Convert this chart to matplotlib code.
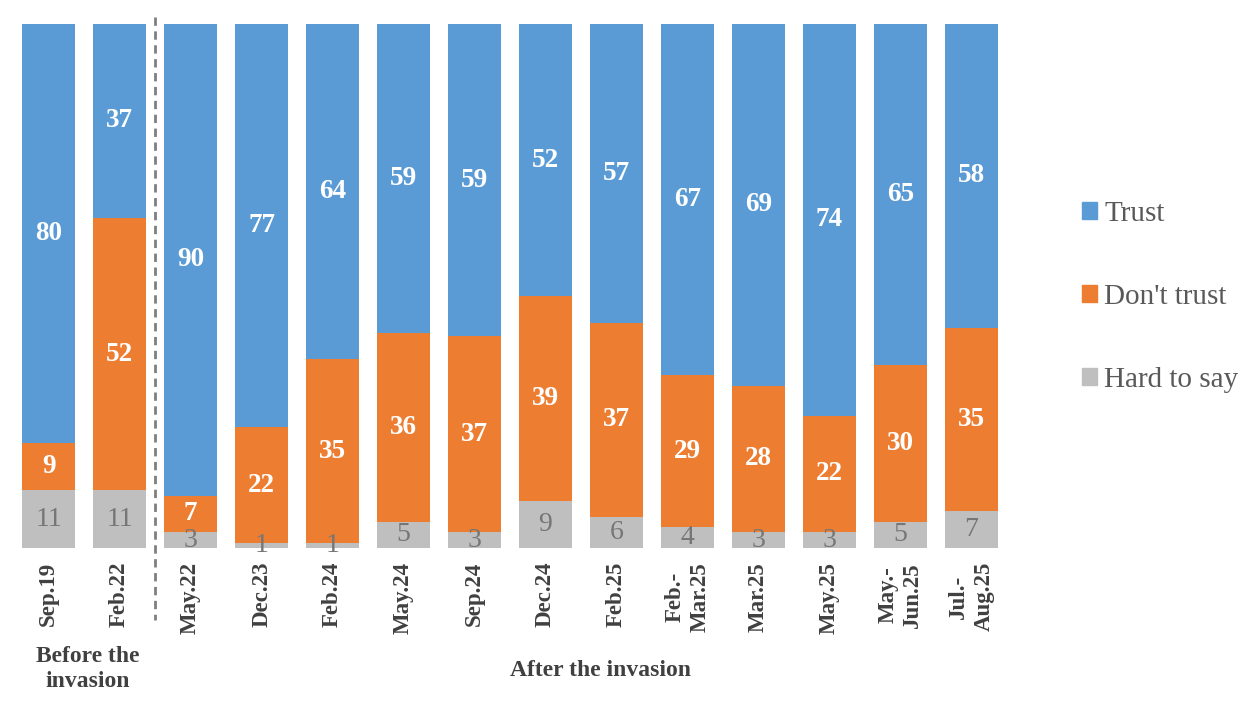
import numpy as np
import matplotlib
matplotlib.use('Agg')
import matplotlib.pyplot as plt
from matplotlib.patches import Patch

plt.rcParams['font.family'] = ['Liberation Serif', 'DejaVu Serif']

# Data
periods = ['Sep.19', 'Feb.22', 'May.22', 'Dec.23', 'Feb.24', 'May.24', 'Sep.24',
           'Dec.24', 'Feb.25', 'Feb.-\nMar.25', 'Mar.25', 'May.25', 'May.-\nJun.25',
           'Jul.-\nAug.25']
trust = [80, 37, 90, 77, 64, 59, 59, 52, 57, 67, 69, 74, 65, 58]
dont_trust = [9, 52, 7, 22, 35, 36, 37, 39, 37, 29, 28, 22, 30, 35]
hard_to_say = [11, 11, 3, 1, 1, 5, 3, 9, 6, 4, 3, 3, 5, 7]

BLUE = '#5B9BD5'
ORANGE = '#ED7D31'
GRAY = '#BFBFBF'

t = np.array(trust, dtype=float)
d = np.array(dont_trust, dtype=float)
h = np.array(hard_to_say, dtype=float)
tot = t + d + h
# 100% stacked, like the source chart
tp, dp, hp = t / tot * 100, d / tot * 100, h / tot * 100

W, H = 1257, 706
fig = plt.figure(figsize=(W / 100, H / 100), dpi=100)
ax = fig.add_axes([22 / W, 158 / H, 976 / W, 524 / H])

x = np.arange(len(periods))
bw = 0.75
ax.bar(x, hp, bw, color=GRAY, label='Hard to say')
ax.bar(x, dp, bw, bottom=hp, color=ORANGE, label="Don't trust")
ax.bar(x, tp, bw, bottom=hp + dp, color=BLUE, label='Trust')

for i in range(len(x)):
    ax.text(x[i], hp[i] / 2, f'{hard_to_say[i]}', ha='center', va='center',
            fontsize=20, color='#767676')
    ax.text(x[i], hp[i] + dp[i] / 2, f'{dont_trust[i]}', ha='center', va='center',
            fontsize=19.5, color='white', fontweight='bold')
    ax.text(x[i], hp[i] + dp[i] + tp[i] / 2, f'{trust[i]}', ha='center', va='center',
            fontsize=19.5, color='white', fontweight='bold')

ax.set_xlim(-0.375, len(x) - 1 + 0.375)
ax.set_ylim(0, 100)
ax.set_yticks([])
ax.set_xticks(x)
ax.set_xticklabels(periods, rotation=90, fontsize=16.5, fontweight='bold',
                   color='#404040', ha='center', va='top', linespacing=1.25)
ax.tick_params(axis='x', length=0, pad=10)
for s in ax.spines.values():
    s.set_visible(False)

# divider between before / after
ax.plot([1.5, 1.5], [1.013, -0.137], transform=ax.get_xaxis_transform(),
        color='#7F7F7F', lw=2, ls=(0, (3, 2)), clip_on=False)

ax.text(88 / W, (706 - 669) / H, 'Before the\ninvasion', transform=fig.transFigure,
        ha='center', va='center', fontsize=17, fontweight='bold', color='#404040',
        linespacing=1.3)
ax.text(600 / W, (706 - 670) / H, 'After the invasion', transform=fig.transFigure,
        ha='center', va='center', fontsize=17, fontweight='bold', color='#404040')

handles = [Patch(color=BLUE), Patch(color=ORANGE), Patch(color=GRAY)]
fig.legend(handles, ['Trust', "Don't trust", 'Hard to say'],
           loc='center left', bbox_to_anchor=(1056 / W, (706 - 297) / H),
           frameon=False, fontsize=21, labelcolor='#595959',
           handlelength=0.5, handleheight=0.5, handletextpad=0.25,
           labelspacing=1.95)

fig.savefig('out.png', dpi=100)
